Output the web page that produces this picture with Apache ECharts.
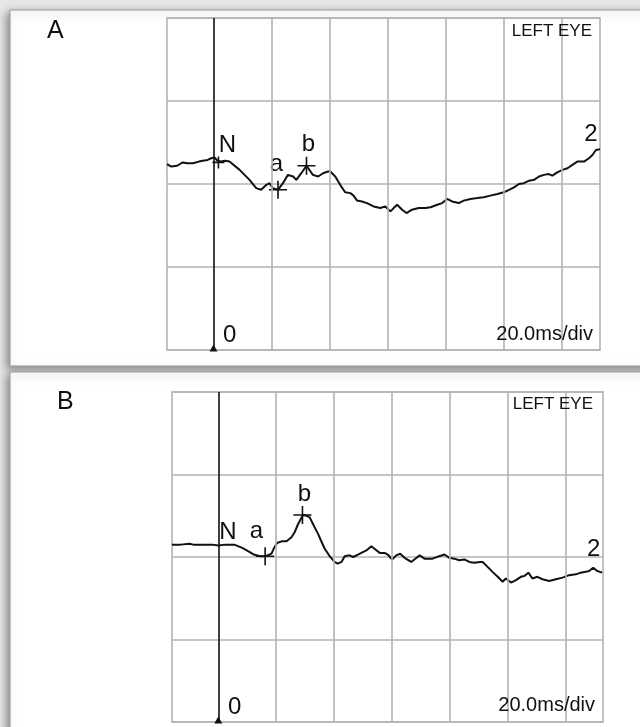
<!DOCTYPE html>
<html>
<head>
<meta charset="utf-8">
<title>ERG - left eye</title>
<script src="https://cdn.jsdelivr.net/npm/echarts@6/dist/echarts.min.js"></script>
<style>
  html, body { margin: 0; padding: 0; background: #e6e6e6; }
  #erg { width: 640px; height: 727px; }
</style>
</head>
<body>
<div id="erg"></div>
<script>
  // time in ms after the flash, amplitude in grid divisions (0 = middle line)
  var gridTimes = [20, 40, 60, 80, 100, 120];

  var tA = [-16, -14.5, -12.5, -10.6, -9, -7.1, -5, -3.7, -2, -0.8, 0.3, 1.4, 2.5, 4, 5.5,
    9, 12.4, 14.7, 16.4, 18.2, 19.3, 20.4, 22.2, 23.9, 25.6, 27.4, 28.5, 30.2, 32, 34.2,
    36, 37.7, 39.4, 40.2, 41.9, 43.6, 45.3, 47.1, 48.2, 49.4, 51.1, 52.8, 55.1, 57.4, 59.1,
    60.9, 62, 63.2, 64.9, 66.4, 68.3, 70.6, 72.9, 74.7, 77, 78.7, 80.4, 82.1, 84.4, 86.1,
    88.4, 90.8, 93, 95.3, 97.7, 99.9, 101.7, 103.4, 105.1, 106.8, 108.6, 110.3, 112, 113.7,
    115.4, 116.6, 118.3, 120.1, 121.8, 123.5, 125.2, 127.5, 129.2, 130.4, 131.6, 133];
  var vA = [0.24, 0.21, 0.22, 0.26, 0.25, 0.25, 0.27, 0.28, 0.29, 0.31, 0.32, 0.28, 0.27, 0.28, 0.27,
    0.17, 0.05, -0.05, -0.07, -0.01, 0.01, -0.05, -0.07, 0.01, 0.11, 0.09, 0.05, 0.13, 0.22, 0.11,
    0.09, 0.13, 0.15, 0.15, 0.09, -0.01, -0.10, -0.11, -0.14, -0.20, -0.21, -0.23, -0.27, -0.29, -0.27,
    -0.33, -0.29, -0.25, -0.31, -0.35, -0.31, -0.29, -0.29, -0.28, -0.25, -0.23, -0.18, -0.21, -0.23, -0.20,
    -0.18, -0.17, -0.16, -0.14, -0.12, -0.10, -0.07, -0.04, 0, 0.01, 0.04, 0.05, 0.09, 0.11,
    0.12, 0.10, 0.14, 0.17, 0.19, 0.23, 0.27, 0.27, 0.31, 0.35, 0.41, 0.42];

  var tB = [-16, -13, -10, -8.6, -5, -2, 0, 2.5, 5.5, 8.3, 10.9, 12.3, 14.4, 16.4, 18.4, 19.3,
    20.3, 21.9, 23.6, 25.3, 26.4, 27.6, 29.3, 30.5, 31.6, 33.3, 34.5, 35.5, 36.8, 38.5, 40.2,
    41.3, 42.6, 43.7, 45.4, 46.6, 48.3, 50, 51.2, 52.9, 54, 55.8, 57.5, 58.6, 60.1, 61.5,
    62.9, 64.4, 66.7, 67.8, 69.6, 71.3, 74.1, 76.4, 78.2, 79.9, 81.6, 83.3, 85.1, 86.8, 88.5,
    90.5, 91.4, 93.1, 94.8, 96.6, 98.3, 99.4, 101.2, 102.9, 104.6, 105.8, 107.2, 108.6, 110.3,
    112.1, 114.4, 116.7, 119, 121.3, 123.6, 125.3, 127, 128.2, 129.6, 131, 132.7];
  var vB = [0.15, 0.15, 0.16, 0.15, 0.15, 0.15, 0.14, 0.15, 0.15, 0.11, 0.06, 0.03, 0.01, 0.01, 0.04, 0.11,
    0.17, 0.19, 0.19, 0.24, 0.30, 0.40, 0.51, 0.50, 0.48, 0.36, 0.28, 0.20, 0.10, 0.01, -0.06,
    -0.08, -0.06, 0.01, 0.02, 0, 0.03, 0.06, 0.08, 0.13, 0.10, 0.05, 0.05, 0.03, -0.03, 0.02,
    0.04, -0.01, -0.06, -0.03, 0.02, -0.02, -0.02, 0.01, 0.03, -0.01, -0.02, -0.04, -0.03, -0.06, -0.07,
    -0.06, -0.06, -0.12, -0.18, -0.24, -0.30, -0.26, -0.31, -0.28, -0.24, -0.23, -0.19, -0.26, -0.24,
    -0.27, -0.29, -0.27, -0.25, -0.22, -0.21, -0.19, -0.18, -0.17, -0.13, -0.17, -0.19];

  // peak markers: name, time, amplitude
  var marksA = [['N', 1.7, 0.26], ['a', 22.2, -0.07], ['b', 32.0, 0.22]];
  var marksB = [['N', 3.0, 0.15], ['a', 16.2, 0.01], ['b', 29.1, 0.51]];

  var panelNames = ['A', 'B'];
  var eyeText = 'LEFT EYE';
  var scaleText = '20.0ms/div';
  var zeroText = '0';
  var endText = '2';

  var FONT = '"Liberation Sans", Arial, sans-serif';
  var GRIDLINE = '#b3b3b3';
  var INK = '#111';
  var CROSS = 'path://M0,10L20,10M10,0L10,20';

  // pixel layout of the two panels
  var panels = [
    {
      grid: {left: 167, top: 18, width: 433, height: 332},
      t: tA, v: vA, marks: marksA,
      showN: true,
      offs: {N: [9, -17], a: [-1.5, -25], b: [2, -21], end: [-9, -15]},
      title: [47, 31], eye: [592, 31.5], scale: [593, 334.5], zero: [223, 335]
    },
    {
      grid: {left: 172, top: 392, width: 431, height: 330},
      t: tB, v: vB, marks: marksB,
      showN: false,
      offs: {N: [1, -12.5], a: [-8.7, -24.6], b: [2, -21], end: [-8.5, -23.7]},
      title: [57, 402.5], eye: [593, 404], scale: [595, 705.5], zero: [228, 707.5]
    }
  ];

  var chart = echarts.init(document.getElementById('erg'));

  var grids = [], xAxes = [], yAxes = [], series = [];
  var graphics = [
    {type: 'rect', z: -10, shape: {x: 10, y: 10, width: 700, height: 356},
      style: {fill: '#fff', stroke: '#9a9a9a', lineWidth: 1, shadowBlur: 8,
        shadowColor: 'rgba(0,0,0,0.4)', shadowOffsetX: -3, shadowOffsetY: 3}},
    {type: 'rect', z: -10, shape: {x: 10, y: 372, width: 700, height: 400},
      style: {fill: '#fff', stroke: '#9a9a9a', lineWidth: 1, shadowBlur: 8,
        shadowColor: 'rgba(0,0,0,0.4)', shadowOffsetX: -3, shadowOffsetY: 3}}
  ];

  function txt(str, pos, size, align) {
    return {
      type: 'text', z: 100,
      style: {text: str, x: pos[0], y: pos[1], fill: '#111', font: size + 'px ' + FONT,
        textAlign: align, textVerticalAlign: 'middle'}
    };
  }

  panels.forEach(function (p, i) {
    grids.push(Object.assign({show: true, borderColor: GRIDLINE, borderWidth: 1.6,
      backgroundColor: 'transparent'}, p.grid));
    xAxes.push({
      type: 'value', gridIndex: i, min: -16, max: 133,
      axisLine: {show: false}, axisTick: {show: false}, axisLabel: {show: false},
      splitLine: {show: false}
    });
    yAxes.push({
      type: 'value', gridIndex: i, min: -2, max: 2, interval: 1,
      axisLine: {show: false}, axisTick: {show: false}, axisLabel: {show: false},
      splitLine: {show: true, lineStyle: {color: GRIDLINE, width: 1.6}}
    });

    // vertical division lines + zero line
    series.push({
      type: 'line', xAxisIndex: i, yAxisIndex: i, data: [], z: 1, silent: true,
      markLine: {
        silent: true, symbol: 'none', animation: false,
        label: {show: false},
        data: gridTimes.map(function (t) {
          return {xAxis: t, lineStyle: {color: GRIDLINE, width: 1.6, type: 'solid'}};
        }).concat([{xAxis: 0, lineStyle: {color: INK, width: 1.6, type: 'solid'}}])
      }
    });

    var pts = p.t.map(function (t, k) { return [t, p.v[k]]; });
    series.push({
      type: 'line', xAxisIndex: i, yAxisIndex: i, z: 3,
      data: pts, showSymbol: false, smooth: false,
      lineStyle: {color: INK, width: 2}
    });

    // crosses and their letters, plus the end label
    var markData = p.marks.map(function (m) {
      var hidden = m[0] === 'N' && !p.showN;
      return {
        value: [m[1], m[2]],
        symbolSize: m[0] === 'N' ? 12 : 18,
        itemStyle: {borderColor: hidden ? 'rgba(0,0,0,0)' : INK},
        label: {formatter: m[0], offset: p.offs[m[0]]}
      };
    });
    var last = pts[pts.length - 1];
    markData.push({
      value: last, symbolSize: 10,
      itemStyle: {borderColor: 'rgba(0,0,0,0)'},
      label: {formatter: endText, offset: p.offs.end}
    });
    series.push({
      type: 'scatter', xAxisIndex: i, yAxisIndex: i, z: 4, silent: true,
      symbol: CROSS, clip: false,
      itemStyle: {color: 'rgba(0,0,0,0)', borderColor: INK, borderWidth: 1.6, opacity: 1},
      label: {show: true, position: 'inside', fontFamily: FONT, fontSize: 24,
        color: '#111', opacity: 1, textBorderWidth: 0},
      data: markData
    });

    // little arrow at the foot of the zero line
    series.push({
      type: 'scatter', xAxisIndex: i, yAxisIndex: i, z: 5, silent: true, clip: false,
      symbol: 'triangle', symbolSize: [8, 7], symbolOffset: [0, -2],
      itemStyle: {color: INK, opacity: 1},
      data: [[0, -2]]
    });

    graphics.push(txt(panelNames[i], p.title, 25, 'left'));
    graphics.push(txt(eyeText, p.eye, 17, 'right'));
    graphics.push(txt(scaleText, p.scale, 20, 'right'));
    graphics.push(txt(zeroText, p.zero, 24, 'left'));
  });

  chart.setOption({
    animation: false,
    backgroundColor: '#e6e6e6',
    grid: grids,
    xAxis: xAxes,
    yAxis: yAxes,
    series: series,
    graphic: {elements: graphics}
  });
</script>
</body>
</html>
